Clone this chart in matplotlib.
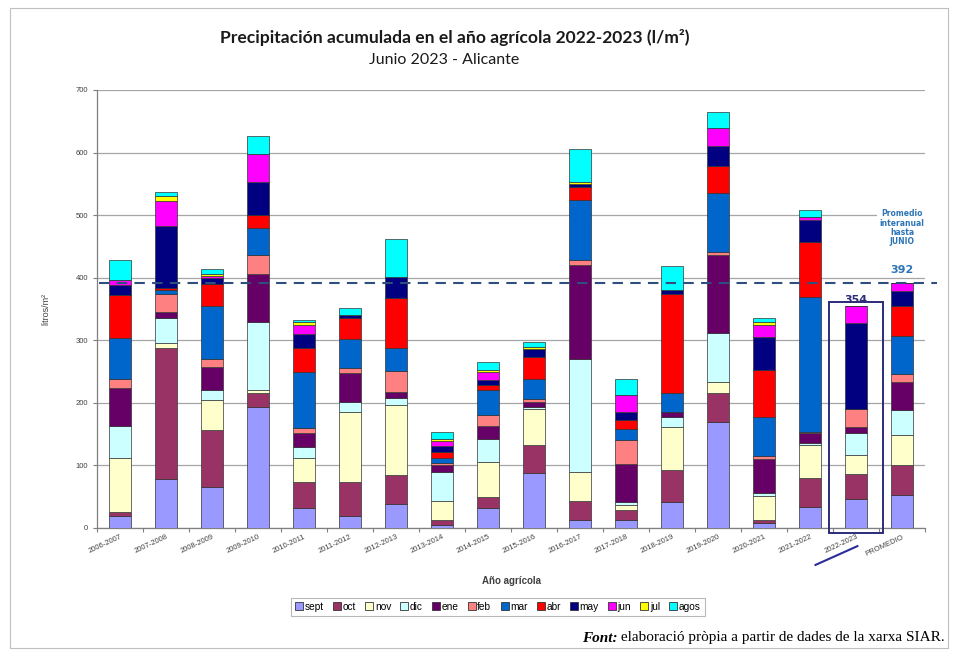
import matplotlib
matplotlib.use("Agg")
import matplotlib.pyplot as plt
from matplotlib.patches import Rectangle
from matplotlib.lines import Line2D
import numpy as np

categories = ["2006-2007", "2007-2008", "2008-2009", "2009-2010", "2010-2011",
              "2011-2012", "2012-2013", "2013-2014", "2014-2015", "2015-2016",
              "2016-2017", "2017-2018", "2018-2019", "2019-2020", "2020-2021",
              "2021-2022", "2022-2023", "PROMEDIO"]
months = ["sept", "oct", "nov", "dic", "ene", "feb", "mar", "abr", "may", "jun", "jul", "agos"]

sept = [19, 78, 66, 194, 32, 19, 39, 5, 32, 88, 12, 13, 41, 170, 8, 33, 46, 52]
octu = [7, 209, 91, 21, 41, 54, 46, 8, 17, 45, 31, 16, 52, 45, 5, 47, 41, 48]
nov = [86, 9, 47, 6, 39, 113, 112, 30, 57, 57, 46, 8, 68, 18, 38, 53, 29, 49]
dic = [51, 40, 17, 108, 18, 16, 10, 47, 36, 4, 181, 5, 17, 79, 5, 3, 36, 40]
ene = [60, 9, 36, 77, 22, 45, 11, 11, 21, 8, 150, 60, 8, 124, 55, 16, 10, 44]
feb = [15, 29, 13, 30, 8, 8, 33, 3, 18, 4, 8, 38, 0, 5, 4, 2, 28, 13]
mar = [66, 6, 84, 43, 89, 47, 36, 8, 40, 32, 97, 19, 29, 94, 63, 215, 0, 61]
abr = [69, 4, 36, 21, 39, 33, 81, 9, 8, 36, 20, 14, 159, 44, 74, 88, 0, 47]
may = [16, 98, 10, 53, 22, 5, 33, 10, 7, 12, 4, 12, 6, 32, 53, 35, 137, 24]
jun = [8, 40, 2, 44, 15, 0, 0, 8, 13, 0, 0, 28, 0, 29, 19, 5, 27, 14]
jul = [0, 8, 4, 0, 4, 0, 0, 3, 3, 4, 4, 0, 0, 0, 5, 0, 0, 0]
agos = [32, 7, 8, 29, 4, 11, 61, 11, 13, 8, 52, 25, 38, 25, 7, 11, 0, 0]

series = [sept, octu, nov, dic, ene, feb, mar, abr, may, jun, jul, agos]
colors = ["#9999FF", "#993366", "#FFFFCC", "#CCFFFF", "#660066", "#FF8080",
          "#0066CC", "#FF0000", "#000080", "#FF00FF", "#FFFF00", "#00FFFF"]

promedio_val = 392
actual_val = 354
highlight = "2022-2023"

W, H = 958, 650
fig = plt.figure(figsize=(W / 100, H / 100), dpi=100)
fig.patch.set_facecolor("white")

ax = fig.add_axes([97 / W, 1 - 528 / H, (925 - 97) / W, (528 - 90) / H])

x = np.arange(len(categories))
bottom = np.zeros(len(categories))
handles = []
for name, vals, col in zip(months, series, colors):
    v = np.array(vals, dtype=float)
    ax.bar(x, v, bottom=bottom, width=0.48, color=col, edgecolor="#333333",
           linewidth=0.5, zorder=3)
    bottom += v
    handles.append(Line2D([], [], marker="s", linestyle="none", markersize=6,
                          markerfacecolor=col, markeredgecolor="#333333",
                          markeredgewidth=0.6, label=name))

ax.set_ylim(0, 700)
ax.set_xlim(-0.46, 17.5)
ax.set_yticks(np.arange(0, 701, 100))
ax.yaxis.grid(True, color="#A6A6A6", linewidth=0.9, zorder=0)
ax.set_axisbelow(True)
for s in ["top", "right"]:
    ax.spines[s].set_visible(False)
for s in ["left", "bottom"]:
    ax.spines[s].set_color("#7F7F7F")
    ax.spines[s].set_linewidth(0.9)
ax.tick_params(axis="y", labelsize=5.5, labelcolor="#404040", color="#7F7F7F",
               length=3, width=0.8)
for lab in ax.get_yticklabels():
    lab.set_family("Liberation Sans")

ax.set_xticks(x)
ax.set_xticklabels(categories, rotation=25, ha="right", rotation_mode="anchor",
                   fontsize=5.5, color="#404040", family="Liberation Sans")
ax.tick_params(axis="x", length=0, pad=4)
ax.set_xticks(np.arange(-0.5, len(categories), 1.0), minor=True)
ax.tick_params(axis="x", which="minor", length=3, color="#7F7F7F", width=0.8)

ax.set_ylabel("litros/m²", fontsize=6.5, color="#404040", family="Liberation Sans",
              labelpad=18)
ax.set_xlabel("Año agrícola", fontsize=7, fontweight="bold", color="#404040",
              family="Liberation Sans", labelpad=13)

# average line
ax.plot([-0.46, 17.75], [promedio_val, promedio_val], linestyle=(0, (5, 3.5)),
        color="#2F4F7F", linewidth=1.5, zorder=5, clip_on=False)

hi = categories.index(highlight)
ax.add_patch(Rectangle((hi - 0.59, -8), 1.18, actual_val + 15, fill=False,
                       edgecolor="#2B2B7A", linewidth=1.4, zorder=6, clip_on=False))
ax.text(hi, actual_val + 3, str(actual_val), ha="center", va="bottom", fontsize=8,
        fontweight="bold", color="#2B2B7A", zorder=7)
ax.plot([hi - 0.88, hi + 0.03], [-59, -29], color="#2B2B9A", linewidth=1.5,
        clip_on=False, zorder=7)

pi = categories.index("PROMEDIO")
ax.text(pi, promedio_val + 12, str(promedio_val), ha="center", va="bottom",
        fontsize=8, fontweight="bold", color="#2E75B6", zorder=7)
ax.text(pi, 450, "Promedio\ninteranual\nhasta\nJUNIO", ha="center", va="bottom",
        fontsize=5.5, fontweight="bold", color="#2E75B6", linespacing=1.05,
        zorder=7, bbox=dict(boxstyle="square,pad=0.3", facecolor="white",
                            edgecolor="none"))

fig.text(455 / W, 1 - 37 / H,
         "Precipitación acumulada en el año agrícola 2022-2023 (l/m²)",
         ha="center", va="center", fontsize=12.6, fontweight="bold",
         family="Lato", color="#1A1A1A")
fig.text(444 / W, 1 - 60 / H, "Junio 2023 - Alicante", ha="center", va="center",
         fontsize=11.5, family="Lato", color="#1A1A1A")

leg = fig.legend(handles=handles, loc="center", bbox_to_anchor=(498 / W, 1 - 607 / H),
                 ncol=12, frameon=True, fancybox=False,
                 handlelength=0.8, handletextpad=0.15, columnspacing=0.9,
                 borderpad=0.4, prop={"family": "Liberation Sans", "size": 7.3})
leg.get_frame().set_edgecolor("#A6A6A6")
leg.get_frame().set_linewidth(0.8)

# outer frame
fig.add_artist(Rectangle((10 / W, 2 / H), 938 / W, 640 / H, transform=fig.transFigure,
                         fill=False, edgecolor="#BFBFBF", linewidth=0.8))

renderer = fig.canvas.get_renderer()
t2 = fig.text(945 / W, 1 - 638 / H, " elaboració pròpia a partir de dades de la xarxa SIAR.",
              ha="right", va="center", fontsize=11, family="Liberation Serif",
              color="black")
bb = t2.get_window_extent(renderer=renderer)
fig.text(bb.x0 / W, 1 - 638 / H, "Font:", ha="right", va="center", fontsize=11,
         family="Liberation Serif", fontweight="bold", fontstyle="italic",
         color="black")

fig.savefig("out.png", dpi=100, facecolor="white")
